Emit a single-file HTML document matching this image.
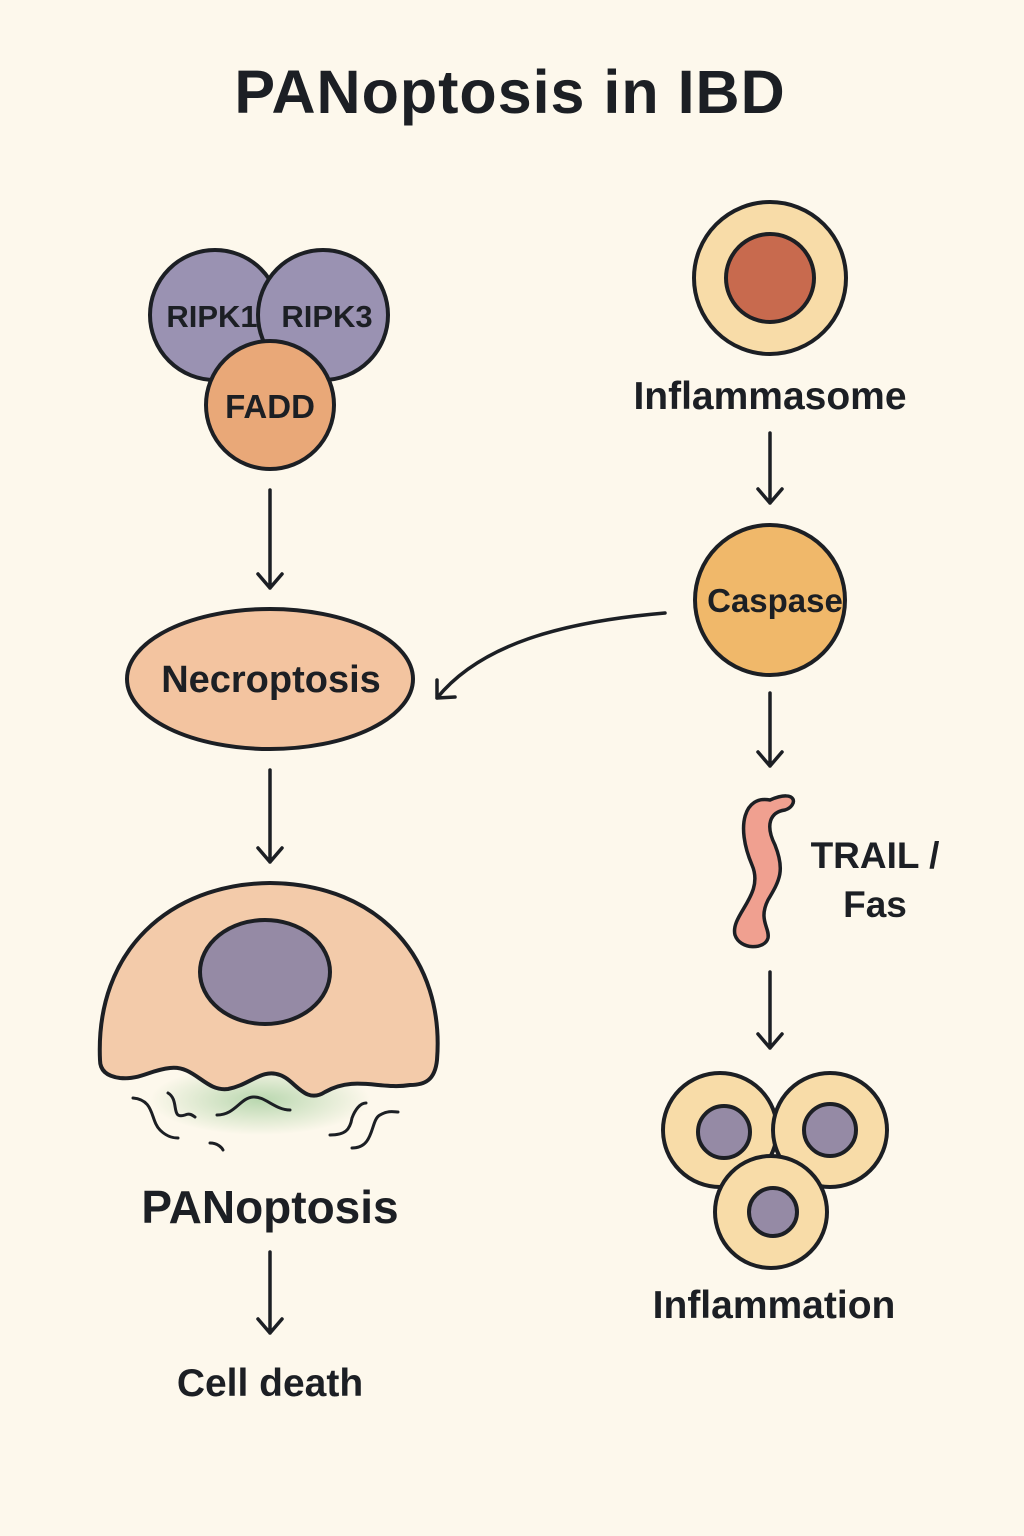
<!DOCTYPE html>
<html><head><meta charset="utf-8"><style>
html,body{margin:0;padding:0;background:#fdf8ec;}
svg{display:block}
text{font-family:"Liberation Sans",sans-serif;font-weight:bold;fill:#1c1f24;text-anchor:middle}
</style></head><body>
<svg width="1024" height="1536" viewBox="0 0 1024 1536" xmlns="http://www.w3.org/2000/svg">
<defs>
<radialGradient id="g" cx="0.5" cy="0.5" r="0.5"><stop offset="0" stop-color="#a8cfa0" stop-opacity="0.8"/><stop offset="1" stop-color="#a8cfa0" stop-opacity="0"/></radialGradient>
</defs>
<rect width="1024" height="1536" fill="#fdf8ec"/>
<text x="510" y="113" font-size="61" letter-spacing="1">PANoptosis in IBD</text>

<g stroke="#1c1f24" stroke-width="4">
<circle cx="215" cy="315" r="65" fill="#9a92b2"/>
<circle cx="323" cy="315" r="65" fill="#9a92b2"/>
<circle cx="270" cy="405" r="64" fill="#e9a878"/>
</g>
<text x="212" y="327" font-size="31">RIPK1</text>
<text x="327" y="327" font-size="31">RIPK3</text>
<text x="270" y="418" font-size="33">FADD</text>

<g stroke="#1c1f24" stroke-width="3.5" fill="none" stroke-linecap="round" stroke-linejoin="round">
<path d="M270 490 V588 M258 574 L270 588 L282 574"/>
<path d="M270 770 V862 M258 848 L270 862 L282 848"/>
<path d="M270 1252 V1333 M258 1319 L270 1333 L282 1319"/>
<path d="M770 433 V503 M758 489 L770 503 L782 489"/>
<path d="M770 693 V766 M758 752 L770 766 L782 752"/>
<path d="M770 972 V1048 M758 1034 L770 1048 L782 1034"/>
<path d="M665 613 C560 622 480 645 437 698 M437 680 L437 698 L455 697"/>
</g>

<ellipse cx="270" cy="679" rx="143" ry="70" fill="#f3c4a0" stroke="#1c1f24" stroke-width="4"/>
<text x="271" y="692" font-size="38">Necroptosis</text>

<ellipse cx="260" cy="1100" rx="110" ry="35" fill="url(#g)"/>
<path d="M100 1060 C95 950 170 884 270 883 C380 884 445 960 437 1060 C435 1080 425 1085 410 1085 C380 1090 355 1075 325 1092 C305 1105 295 1080 280 1075 C262 1068 250 1085 228 1089 C205 1092 195 1065 170 1068 C150 1070 140 1080 120 1078 C104 1076 100 1068 100 1060 Z" fill="#f3cbaa" stroke="#1c1f24" stroke-width="4"/>
<ellipse cx="265" cy="972" rx="65" ry="52" fill="#958aa5" stroke="#1c1f24" stroke-width="4"/>
<g stroke="#1c1f24" stroke-width="3" fill="none" stroke-linecap="round">
<path d="M133 1098 C155 1100 150 1120 160 1130 C168 1138 175 1138 178 1138"/>
<path d="M168 1093 C180 1100 170 1120 185 1115 C190 1113 192 1115 195 1117"/>
<path d="M217 1115 C235 1115 240 1098 253 1097 C265 1096 275 1110 290 1110"/>
<path d="M210 1143 C218 1143 222 1148 223 1150"/>
<path d="M330 1135 C345 1135 350 1130 352 1118 C355 1110 360 1103 366 1103"/>
<path d="M352 1148 C375 1148 370 1120 380 1115 C388 1110 395 1112 398 1112"/>
</g>
<text x="270" y="1223" font-size="46">PANoptosis</text>
<text x="270" y="1396" font-size="39">Cell death</text>

<circle cx="770" cy="278" r="76" fill="#f8dca8" stroke="#1c1f24" stroke-width="4"/>
<circle cx="770" cy="278" r="44" fill="#c86a4e" stroke="#1c1f24" stroke-width="4"/>
<text x="770" y="409" font-size="39">Inflammasome</text>

<circle cx="770" cy="600" r="75" fill="#f0b86a" stroke="#1c1f24" stroke-width="4"/>
<text x="775" y="612" font-size="33">Caspase</text>

<path d="M770 800 C745 795 735 825 752 865 C765 895 730 915 735 935 C740 950 765 950 768 938 C770 928 758 920 768 900 C780 880 785 870 775 845 C765 825 770 812 785 810 C798 806 798 788 770 800 Z" fill="#f0a090" stroke="#1c1f24" stroke-width="3.5"/>
<text x="875" y="868" font-size="37">TRAIL /</text>
<text x="875" y="917" font-size="37">Fas</text>

<g stroke="#1c1f24" stroke-width="4">
<circle cx="720" cy="1130" r="57" fill="#f8dca8"/>
<circle cx="830" cy="1130" r="57" fill="#f8dca8"/>
<circle cx="771" cy="1212" r="56" fill="#f8dca8"/>
<circle cx="724" cy="1132" r="26" fill="#958aa5"/>
<circle cx="830" cy="1130" r="26" fill="#958aa5"/>
<circle cx="773" cy="1212" r="24" fill="#958aa5"/>
</g>
<text x="774" y="1318" font-size="39">Inflammation</text>
</svg>
</body></html>
